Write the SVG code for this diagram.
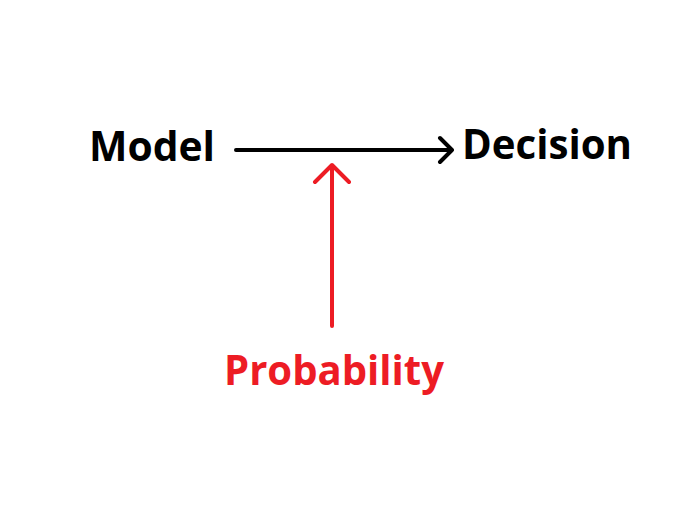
<svg xmlns="http://www.w3.org/2000/svg" width="698" height="512" viewBox="0 0 698 512">
<style>
.t{font-family:"Open Sans","Noto Sans","Liberation Sans",sans-serif;font-weight:bold;font-size:42px}
.k{stroke:#000;stroke-width:4;fill:none;stroke-linecap:round;stroke-linejoin:round}
.r{stroke:#ed1c24;stroke-width:4;fill:none;stroke-linecap:round;stroke-linejoin:round}
</style>
<rect width="698" height="512" fill="#fff"/>
<g id="model"><text class="t" x="89" y="161" textLength="126" lengthAdjust="spacingAndGlyphs">Model</text></g>
<g id="decision"><text class="t" x="462" y="159" textLength="170" lengthAdjust="spacingAndGlyphs">Decision</text></g>
<g id="probability"><text class="t" x="224" y="385" fill="#ed1c24" textLength="220" lengthAdjust="spacingAndGlyphs">Probability</text></g>
<g id="connectors">
<path class="k" d="M236 150 H452 M440 138 L452 150 L440 162"/>
<path class="r" d="M332 326 V165 M315 182 L332 165 L349 182"/>
</g>
</svg>
